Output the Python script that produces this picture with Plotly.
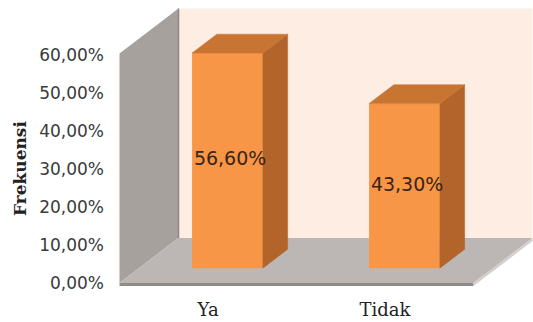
import plotly.graph_objects as go

# Chart data
categories = ["Ya", "Tidak"]
values = [56.6, 43.3]
tick_values = [0, 10, 20, 30, 40, 50, 60]
tick_labels = ["0,00%", "10,00%", "20,00%", "30,00%", "40,00%", "50,00%", "60,00%"]

# 3-D look: oblique projection, depth expressed in axis units
DEPTH_X = 1 / 3      # x shift over the full floor depth (category units)
DEPTH_Y = 11.84      # y shift over the full floor depth (percent units)
BAR_FRONT = 0.33     # depth fraction of the bar front face
BAR_BACK = 0.75      # depth fraction of the bar back face
BAR_W = 0.40
WALL_TOP = 60.4
FLOOR_THICK = 0.8

FRONT = "#F79646"
SIDE = "#B3642B"
TOP = "#C87432"
BACK_WALL = "#FDEDE3"
SIDE_WALL = "#A6A19D"
FLOOR = "#BCB7B5"
FLOOR_EDGE = "#8F8B89"


def proj(x, y, d):
    return x + d * DEPTH_X, y + d * DEPTH_Y


def path(points):
    return "M " + " L ".join(f"{x:.4f},{y:.4f}" for x, y in points) + " Z"


def fmt(v):
    return f"{v:.2f}".replace(".", ",") + "%"


xs = list(range(len(categories)))
x_lo, x_hi = -0.5, len(categories) - 0.5

fig = go.Figure()

# Front faces of the bars
bar_x = [proj(x, 0, BAR_FRONT)[0] for x in xs]
base = proj(0, 0, BAR_FRONT)[1]
fig.add_trace(go.Bar(
    x=bar_x, y=values, base=base, width=BAR_W,
    marker=dict(color=FRONT, line=dict(width=0)),
    hoverinfo="skip", showlegend=False,
))

# Side and top faces
dd = BAR_BACK - BAR_FRONT
for bx, v in zip(bar_x, values):
    xr = bx + BAR_W / 2
    xl = bx - BAR_W / 2
    top = base + v
    side = [(xr, base), proj(xr, base, dd), proj(xr, top, dd), (xr, top), (xr, base)]
    cap = [(xl, top), proj(xl, top, dd), proj(xr, top, dd), (xr, top), (xl, top)]
    for pts, col in ((side, SIDE), (cap, TOP)):
        fig.add_trace(go.Scatter(
            x=[p[0] for p in pts], y=[p[1] for p in pts],
            mode="lines", fill="toself", fillcolor=col,
            line=dict(width=0.5, color=col),
            hoverinfo="skip", showlegend=False,
        ))

# Value labels
fig.add_trace(go.Scatter(
    x=[bx + 0.015 for bx in bar_x], y=[base + v / 2 for v in values],
    mode="text", text=[fmt(v) for v in values],
    textfont=dict(family="DejaVu Sans", size=19, color="#3a2414"),
    hoverinfo="skip", showlegend=False,
))

# Walls and floor
shapes = []
back_wall = [proj(x_lo, 0, 1), proj(x_hi, 0, 1), proj(x_hi, WALL_TOP, 1), proj(x_lo, WALL_TOP, 1)]
side_wall = [(x_lo, 0), proj(x_lo, 0, 1), proj(x_lo, WALL_TOP, 1), (x_lo, WALL_TOP)]
floor_top = [(x_lo, 0), (x_hi, 0), proj(x_hi, 0, 1), proj(x_lo, 0, 1)]
floor_front = [(x_lo, 0), (x_hi, 0), (x_hi, -FLOOR_THICK), (x_lo, -FLOOR_THICK)]
floor_right = [(x_hi, 0), proj(x_hi, 0, 1), proj(x_hi, -FLOOR_THICK, 1), (x_hi, -FLOOR_THICK)]
for pts, col in ((back_wall, BACK_WALL), (side_wall, SIDE_WALL), (floor_top, FLOOR),
                 (floor_front, FLOOR_EDGE), (floor_right, "#D2CECC")):
    shapes.append(dict(type="path", path=path(pts), xref="x", yref="y",
                       fillcolor=col, line=dict(width=0), layer="below"))
# corner edge between side wall and back wall
c0, c1 = proj(x_lo, 0, 1), proj(x_lo, WALL_TOP, 1)
shapes.append(dict(type="line", x0=c0[0], y0=c0[1], x1=c1[0], y1=c1[1],
                   xref="x", yref="y", line=dict(color="#8C8784", width=1.5), layer="below"))

W, H = 533, 322
L, B = 118, 30
px_x, px_y = 177.0, 3.8
zero_x, zero_y = 208.0, 283.0
x0 = -(zero_x - L) / px_x
x1 = x0 + (W - L) / px_x
y1 = zero_y / px_y
y0 = y1 - (H - B) / px_y

fig.update_layout(
    width=W, height=H,
    margin=dict(l=L, r=0, t=0, b=B),
    paper_bgcolor="white", plot_bgcolor="white",
    shapes=shapes,
    xaxis=dict(range=[x0, x1], tickvals=xs, ticktext=categories,
               showgrid=False, zeroline=False, showline=False,
               ticklabelstandoff=5,
               tickfont=dict(family="DejaVu Serif", size=18, color="#222222")),
    yaxis=dict(range=[y0, y1], tickvals=tick_values, ticktext=tick_labels,
               showgrid=False, zeroline=False, showline=False,
               ticklabelstandoff=13,
               tickfont=dict(family="DejaVu Sans", size=17, color="#3a3a3a")),
    annotations=[dict(text="Frekuensi", textangle=-90, xref="paper", yref="y",
                      x=(20 - L) / (W - L), y=30, showarrow=False,
                      xanchor="center", yanchor="middle",
                      font=dict(family="DejaVu Serif", size=17, color="#222222",
                                weight="bold"))],
)

fig.write_html("out.html")
